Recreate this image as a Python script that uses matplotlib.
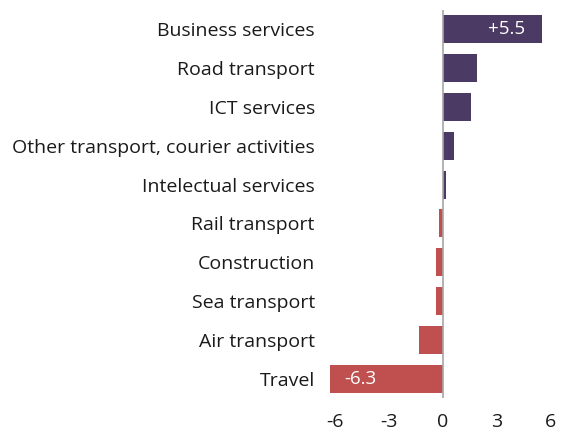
import matplotlib
matplotlib.use("Agg")
import matplotlib.pyplot as plt

categories = ["Business services", "Road transport", "ICT services",
              "Other transport, courier activities", "Intelectual services",
              "Rail transport", "Construction", "Sea transport",
              "Air transport", "Travel"]
values = [5.5, 1.9, 1.55, 0.6, 0.2, -0.2, -0.4, -0.4, -1.35, -6.3]
label_flags = [True, False, False, False, False, False, False, False, False, True]
xticks = [-6, -3, 0, 3, 6]

plt.rcParams['font.family'] = ['Open Sans', 'DejaVu Sans']

fig = plt.figure(figsize=(5.62, 4.36), dpi=100)
ax = fig.add_axes([0.580, 0.087, 0.416, 0.890])

pos_color = "#4B3A63"
neg_color = "#C0504F"
colors = [pos_color if v >= 0 else neg_color for v in values]
y = list(range(len(categories)))
ax.barh(y, values, height=0.72, color=colors)

for yi, v, show in zip(y, values, label_flags):
    if show:
        txt = f"+{v:.1f}" if v > 0 else f"{v:.1f}"
        if v > 0:
            ax.text(v - 0.9, yi, txt, ha="right", va="center", color="white", fontsize=13.5)
        else:
            ax.text(v + 0.8, yi, txt, ha="left", va="center", color="white", fontsize=13.5)

ax.axvline(0, color="#A6A6A6", lw=1.2)
ax.set_xlim(-6.5, 6.5)
ax.set_ylim(9.5, -0.5)
ax.set_yticks(y)
ax.set_yticklabels(categories, fontsize=14, color="#1a1a1a")
ax.set_xticks(xticks)
ax.set_xticklabels([str(t) for t in xticks], fontsize=14, color="#1a1a1a")
ax.tick_params(axis="both", length=0)
ax.tick_params(axis="y", pad=8)
ax.tick_params(axis="x", pad=11)
for s in ax.spines.values():
    s.set_visible(False)

fig.savefig("out.png", dpi=100)
